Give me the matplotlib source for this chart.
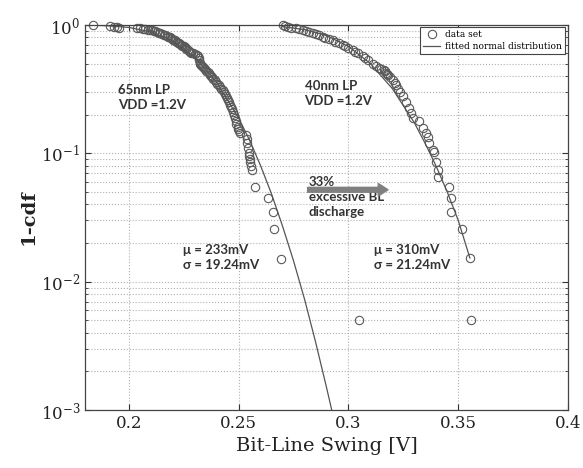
import matplotlib.pyplot as plt

# measured bit-line swing [V] and 1-cdf, 65nm LP
x65 = [0.1838, 0.1915, 0.1930, 0.1945, 0.1955,
       0.2035, 0.2050, 0.2062, 0.2075, 0.2085, 0.2095, 0.2105, 0.2112, 0.2120, 0.2128,
       0.2135, 0.2142, 0.2150, 0.2160, 0.2165, 0.2172, 0.2180, 0.2185, 0.2192, 0.2198,
       0.2203, 0.2208, 0.2212, 0.2218, 0.2225, 0.2230, 0.2233, 0.2238, 0.2243, 0.2250,
       0.2255, 0.2258, 0.2262, 0.2268, 0.2275, 0.2280, 0.2285, 0.2290, 0.2300, 0.2310,
       0.2315, 0.2318, 0.2320, 0.2322, 0.2325, 0.2328, 0.2333, 0.2338, 0.2343, 0.2348,
       0.2352, 0.2358, 0.2365, 0.2370, 0.2375, 0.2380, 0.2385, 0.2392, 0.2398, 0.2403,
       0.2410, 0.2415, 0.2420, 0.2428, 0.2432, 0.2438, 0.2443, 0.2448, 0.2452, 0.2457,
       0.2462, 0.2466, 0.2470, 0.2474, 0.2478, 0.2482, 0.2486, 0.2490, 0.2495, 0.2498,
       0.2503, 0.2508, 0.2535, 0.2538, 0.2540, 0.2542, 0.2545, 0.2547, 0.2550, 0.2552,
       0.2555, 0.2560, 0.2576, 0.2633, 0.2656, 0.2659, 0.2691, 0.3050]
y65 = [1.00, 0.975, 0.965, 0.960, 0.955,
       0.945, 0.940, 0.935, 0.930, 0.920, 0.915, 0.910, 0.900, 0.890, 0.880,
       0.870, 0.860, 0.850, 0.840, 0.830, 0.820, 0.810, 0.800, 0.790, 0.780,
       0.770, 0.760, 0.750, 0.740, 0.730, 0.720, 0.710, 0.700, 0.690, 0.680,
       0.670, 0.660, 0.650, 0.640, 0.630, 0.620, 0.610, 0.600, 0.590, 0.580,
       0.570, 0.550, 0.530, 0.510, 0.500, 0.490, 0.480, 0.470, 0.460, 0.450,
       0.440, 0.430, 0.420, 0.410, 0.400, 0.390, 0.380, 0.370, 0.360, 0.350,
       0.340, 0.330, 0.320, 0.310, 0.300, 0.290, 0.280, 0.270, 0.260, 0.250,
       0.240, 0.230, 0.220, 0.210, 0.200, 0.190, 0.180, 0.170, 0.160, 0.155,
       0.150, 0.145, 0.140, 0.130, 0.120, 0.110, 0.100, 0.095, 0.090, 0.085,
       0.080, 0.074, 0.055, 0.045, 0.035, 0.0256, 0.0151, 0.0050]

# measured bit-line swing [V] and 1-cdf, 40nm LP
x40 = [0.2701, 0.2712, 0.2724, 0.2740, 0.2762, 0.2775, 0.2792, 0.2805, 0.2820, 0.2838,
       0.2850, 0.2865, 0.2883, 0.2895, 0.2910, 0.2929, 0.2940, 0.2955, 0.2974, 0.2985,
       0.3000, 0.3020, 0.3030, 0.3045, 0.3065, 0.3075, 0.3090, 0.3110, 0.3125, 0.3140,
       0.3150, 0.3160, 0.3168, 0.3171, 0.3175, 0.3180, 0.3190, 0.3201, 0.3210, 0.3217,
       0.3224, 0.3235, 0.3247, 0.3260, 0.3277, 0.3285, 0.3292, 0.3323, 0.3338, 0.3353,
       0.3360, 0.3368, 0.3383, 0.3390, 0.3399, 0.3406, 0.3410, 0.3459, 0.3467, 0.3467,
       0.3515, 0.3553, 0.3558]
y40 = [1.00, 0.985, 0.970, 0.955, 0.940, 0.930, 0.915, 0.900, 0.880, 0.860,
       0.845, 0.830, 0.810, 0.795, 0.780, 0.760, 0.740, 0.720, 0.700, 0.680,
       0.660, 0.640, 0.620, 0.600, 0.570, 0.550, 0.530, 0.500, 0.480, 0.465,
       0.455, 0.445, 0.435, 0.425, 0.415, 0.405, 0.390, 0.370, 0.355, 0.340,
       0.320, 0.300, 0.280, 0.250, 0.225, 0.205, 0.188, 0.178, 0.157, 0.144,
       0.135, 0.120, 0.107, 0.103, 0.086, 0.074, 0.065, 0.055, 0.045, 0.035,
       0.0256, 0.0153, 0.0050]

# fitted normal curves
fit65_x = [0.183, 0.190, 0.200, 0.210, 0.220, 0.230, 0.240, 0.250, 0.255, 0.260,
           0.265, 0.270, 0.275, 0.280, 0.285, 0.290, 0.295]
fit65_y = [0.997, 0.987, 0.957, 0.884, 0.750, 0.562, 0.358, 0.188, 0.126, 0.080,
           0.048, 0.027, 0.0145, 0.0073, 0.0034, 0.0015, 0.00064]
fit40_x = [0.270, 0.280, 0.290, 0.300, 0.310, 0.320, 0.330, 0.335, 0.340, 0.345,
           0.350, 0.3553]
fit40_y = [0.970, 0.921, 0.827, 0.681, 0.500, 0.319, 0.173, 0.119, 0.079, 0.050,
           0.030, 0.0153]

x_ticks = [0.2, 0.25, 0.3, 0.35, 0.4]
x_tick_labels = ['0.2', '0.25', '0.3', '0.35', '0.4']

plt.rcParams['mathtext.fontset'] = 'dejavuserif'
serif = 'DejaVu Serif'
sans = ['Lato', 'DejaVu Sans']

fig = plt.figure(figsize=(5.83, 4.68), dpi=100)
ax = fig.add_axes([0.1458, 0.1239, 0.8285, 0.8227])

# markers may sit on the top spine, like in the original
mk = dict(marker='o', ms=6, mfc='none', mec='#5a5a5a', mew=0.8, ls='none', clip_on=False)
ax.plot(x65, y65, label='data set', **mk)
ax.plot(fit65_x, fit65_y, color='#555555', lw=0.9, label='fitted normal distribution')
ax.plot(x40, y40, **mk)
ax.plot(fit40_x, fit40_y, color='#555555', lw=0.9)

ax.set_yscale('log')
ax.set_xlim(0.18, 0.4)
ax.set_ylim(1e-3, 1)
ax.set_xticks(x_ticks)
ax.set_xticklabels(x_tick_labels)
ax.tick_params(which='both', direction='in', top=True, right=True, labelsize=12, colors='#333333')
ax.tick_params(which='major', length=4)
ax.tick_params(which='minor', length=2.5)
for lab in ax.get_xticklabels() + ax.get_yticklabels():
    lab.set_family(serif)
    lab.set_color('#222222')

ax.grid(True, which='major', color='#b0b0b0', ls=':', lw=0.8)
ax.grid(True, which='minor', axis='y', color='#b0b0b0', ls=':', lw=0.8)
for s in ax.spines.values():
    s.set_color('#444444')
    s.set_linewidth(0.9)

ax.set_xlabel('Bit-Line Swing [V]', family=serif, fontsize=14, color='#222222', labelpad=4)
ax.set_ylabel('1-cdf', family=serif, fontsize=14, fontweight='bold', color='#222222', labelpad=2)

# annotations
txt = dict(family=sans, fontweight='bold', fontsize=9.5, color='#333333', va='top', linespacing=1.3)
ax.text(0.195, 0.345, '65nm LP\nVDD =1.2V', **txt)
ax.text(0.2800, 0.375, '40nm LP\nVDD =1.2V', **txt)
ax.text(0.2820, 0.066, '33%\nexcessive BL\ndischarge', **txt)
ax.text(0.2245, 0.0196, 'μ = 233mV\nσ = 19.24mV', **txt)
ax.text(0.3118, 0.0196, 'μ = 310mV\nσ = 21.24mV', **txt)
ax.annotate('', xy=(0.3180, 0.052), xytext=(0.2814, 0.052),
            arrowprops=dict(facecolor='#808080', edgecolor='#808080',
                            width=3.5, headwidth=9, headlength=7))

leg = ax.legend(loc='upper right', bbox_to_anchor=(0.994, 0.994), borderaxespad=0,
                prop={'family': serif, 'size': 6.5}, fancybox=False, framealpha=1,
                edgecolor='#444444', handlelength=1.8, handletextpad=0.6,
                borderpad=0.35, labelspacing=0.3)
leg.get_frame().set_linewidth(0.8)
leg.set_zorder(5)

plt.savefig('out.png', dpi=100)
